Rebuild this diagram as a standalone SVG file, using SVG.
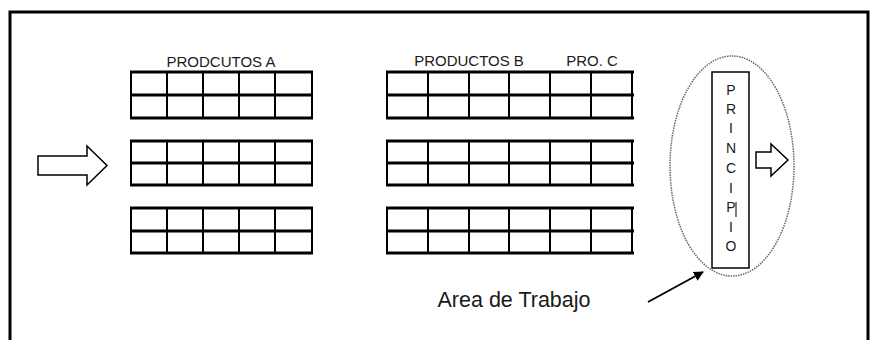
<svg xmlns="http://www.w3.org/2000/svg" width="871" height="340" viewBox="0 0 871 340">
<style>
.h{stroke:#000;stroke-width:3;fill:none}
.v{stroke:#000;stroke-width:2;fill:none}
.t{font-family:"Liberation Sans",Arial,sans-serif;fill:#1a1a1a}
.blk{fill:#fff;stroke:#000;stroke-width:1.5}
</style>
<defs>
<marker id="ah" markerWidth="10" markerHeight="10" refX="9" refY="5" orient="auto" markerUnits="userSpaceOnUse">
<path d="M0,0 L10,5 L0,10 z" fill="#000"/>
</marker>
</defs>
<rect width="871" height="340" fill="#fff"/>
<g id="frame">
<path d="M10,340 V12 H868 V340" fill="none" stroke="#000" stroke-width="3"/>
</g>
<g id="shelf-a">
<text class="t" x="221" y="67" font-size="15" text-anchor="middle">PRODCUTOS A</text>
<g id="shelf-a-1">
<path class="v" d="M131,72V118M167,72V118M203,72V118M239,72V118M275,72V118M312,72V118"/>
<path class="h" d="M130,72H313M130,95H313M130,118H313"/>
</g>
<g id="shelf-a-2">
<path class="v" d="M131,141V185M167,141V185M203,141V185M239,141V185M275,141V185M312,141V185"/>
<path class="h" d="M130,141H313M130,163H313M130,185H313"/>
</g>
<g id="shelf-a-3">
<path class="v" d="M131,208V253M167,208V253M203,208V253M239,208V253M275,208V253M312,208V253"/>
<path class="h" d="M130,208H313M130,231H313M130,253H313"/>
</g>
</g>
<g id="shelf-b">
<text class="t" x="469" y="66" font-size="15" text-anchor="middle">PRODUCTOS B</text>
<text class="t" x="592" y="66" font-size="15" text-anchor="middle">PRO. C</text>
<g id="shelf-b-1">
<path class="v" d="M387,72V118M428,72V118M469,72V118M509,72V118M550,72V118M591,72V118M632,72V118"/>
<path class="h" d="M386,72H634M386,95H634M386,118H634"/>
</g>
<g id="shelf-b-2">
<path class="v" d="M387,141V185M428,141V185M469,141V185M509,141V185M550,141V185M591,141V185M632,141V185"/>
<path class="h" d="M386,141H634M386,163H634M386,185H634"/>
</g>
<g id="shelf-b-3">
<path class="v" d="M387,208V253M428,208V253M469,208V253M509,208V253M550,208V253M591,208V253M632,208V253"/>
<path class="h" d="M386,208H634M386,231H634M386,253H634"/>
</g>
</g>
<g id="arrow-in">
<path class="blk" d="M38,156 H87 V146 L107,165.5 L87,185 V175 H38 z"/>
</g>
<g id="work-area">
<ellipse cx="732" cy="166" rx="62" ry="110" fill="none" stroke="#666" stroke-width="1.5" stroke-dasharray="1.5,1"/>
</g>
<g id="principio">
<rect x="712" y="72" width="37" height="196" fill="#fff" stroke="#000" stroke-width="1.5"/>
<g class="t" font-size="14" text-anchor="middle">
<text x="731" y="95">P</text>
<text x="731" y="114">R</text>
<text x="731" y="133">I</text>
<text x="731" y="153">N</text>
<text x="731" y="173">C</text>
<text x="731" y="193">I</text>
<text x="731" y="212">P</text>
<text x="731" y="232">I</text>
<text x="731" y="251">O</text>
</g>
<line x1="736" y1="202" x2="736" y2="217" stroke="#000" stroke-width="1"/>
</g>
<g id="arrow-out">
<path class="blk" d="M756,152 H771 V144 L788,160 L771,176 V168 H756 z"/>
</g>
<g id="label">
<text class="t" x="514" y="307" font-size="21.5" text-anchor="middle">Area de Trabajo</text>
</g>
<g id="connectors">
<line x1="648" y1="302" x2="703" y2="272" stroke="#000" stroke-width="1.8" marker-end="url(#ah)"/>
</g>
</svg>
